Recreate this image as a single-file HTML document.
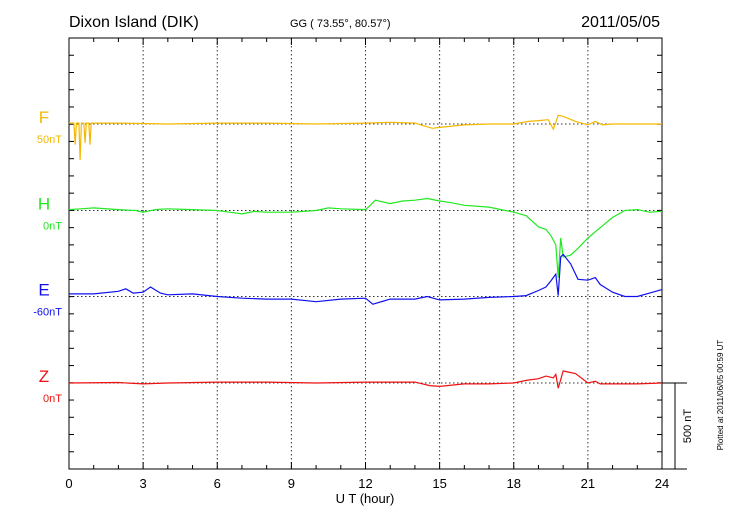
<!DOCTYPE html>
<html><head><meta charset="utf-8"><style>
body{margin:0;background:#fff;}
svg{display:block;font-family:"Liberation Sans",sans-serif;}
</style></head><body>
<svg id="c" width="730" height="520" xmlns="http://www.w3.org/2000/svg">
<text x="69" y="27" font-size="16">Dixon Island (DIK)</text>
<text x="290" y="27" font-size="11">GG ( 73.55°,  80.57°)</text>
<text x="660" y="27" font-size="16" text-anchor="end">2011/05/05</text>
<text x="365" y="503" font-size="13" text-anchor="middle">U T (hour)</text>
<text transform="translate(691,426) rotate(-90)" font-size="11" text-anchor="middle">500 nT</text>
<text transform="translate(723,395) rotate(-90)" font-size="8" text-anchor="middle">Plotted at 2011/06/05 00:59 UT</text>
</svg>
<script>
const hours=[0,3,6,9,12,15,18,21,24];
const fT=[0,0.2,0.25,0.3,0.4,0.45,0.5,0.6,0.65,0.7,0.8,0.85,0.9,2,4,6,8,10,12,13,14,14.7,15,16,17,18,18.6,19,19.4,19.6,19.7,19.8,20,20.5,21,21.3,21.6,22,23,24];
const fV=[5,5,-120,5,5,-210,5,5,-110,5,5,-120,5,5,0,5,5,0,5,10,5,-25,-20,-5,0,0,15,20,25,-30,10,50,45,15,-5,15,-5,0,0,0];
const hT=[0,0.5,1,2,2.7,3,3.5,4,5,6,6.5,7,7.5,8,9,10,10.5,11,12,12.2,12.4,13,13.5,14,14.5,15,15.5,16,17,18,18.5,19,19.3,19.5,19.7,19.8,19.9,20,20.3,20.6,21,21.5,22,22.5,23,23.5,24];
const hV=[5,10,15,5,0,-10,5,10,5,0,-10,-20,-5,-10,-10,0,15,10,5,30,60,40,55,60,70,55,45,30,20,-10,-30,-95,-110,-145,-200,-390,-160,-270,-260,-220,-160,-100,-40,0,5,-10,-5];
const eT=[0,1,2,2.3,2.6,3,3.3,3.7,4,5,6,7,8,9,10,11,12,12.3,13,14,14.5,15,16,17,18,18.5,19,19.3,19.5,19.7,19.8,19.9,20,20.3,20.6,21,21.3,21.5,22,22.5,23,23.5,24];
const eV=[15,15,30,45,20,25,55,20,10,15,0,-10,-15,-15,-30,-15,-10,-45,-15,-15,0,-20,-15,-5,0,5,35,55,90,130,5,230,245,190,100,95,110,70,25,0,0,20,40];
const zT=[0,2,3,4,6,8,10,12,14,14.6,15,16,17,18,18.5,19,19.3,19.6,19.7,19.8,20,20.5,21,21.3,21.5,22,23,24];
const zV=[0,3,-5,0,5,5,0,5,5,-15,-20,-5,-5,0,15,25,40,30,50,-30,70,55,0,10,-5,-5,-5,0];
const X0=69,X1=662,Y0=38,Y1=469,K=0.172;
const bases={F:124,H:210.5,E:296.5,Z:383};
const x=t=>X0+(X1-X0)*t/24;
const y=(b,v)=>b-v*K;
const svg=document.getElementById('c');
const NS='http://www.w3.org/2000/svg';
function mk(tag,attrs){const e=document.createElementNS(NS,tag);for(const k in attrs)e.setAttribute(k,attrs[k]);svg.appendChild(e);return e;}
hours.slice(1,-1).forEach(h=>{const g=mk('line',{x1:x(h),x2:x(h),y1:Y0,y2:Y1,stroke:'#333','stroke-dasharray':'1.5,2.5','stroke-width':1});

});
Object.keys(bases).forEach(k=>{const g=mk('line',{x1:X0,x2:X1,y1:bases[k],y2:bases[k],stroke:'#333','stroke-dasharray':'1.5,2.5','stroke-width':1});

});
const fr=mk('rect',{x:X0,y:Y0,width:X1-X0,height:Y1-Y0,fill:'none',stroke:'#000','stroke-width':1});


const bx=mk('line',{x1:X1,x2:687,y1:Y1,y2:Y1,stroke:'#000'});


for(let h=0;h<=24;h++){const L=h%3==0?7:4;
const t1=mk('line',{x1:x(h),x2:x(h),y1:Y1,y2:Y1-L,stroke:'#000'});


const t2=mk('line',{x1:x(h),x2:x(h),y1:Y0,y2:Y0+L,stroke:'#000'});

}
hours.forEach(h=>{const t=mk('text',{x:x(h),y:488,'font-size':13,'text-anchor':'middle'});t.textContent=h;

});
for(let yy=Y0+17.24;yy<Y1-1;yy+=17.24){
const a=mk('line',{x1:X0,x2:X0+5,y1:yy,y2:yy,stroke:'#000'});


const b=mk('line',{x1:X1,x2:X1-5,y1:yy,y2:yy,stroke:'#000'});

}
const sb=mk('path',{d:`M${X1} 383H687M675 383V469`,stroke:'#000',fill:'none'});


const series=[['F',fT,fV,'#f5b800','50nT'],['H',hT,hV,'#22e822','0nT'],['E',eT,eV,'#1010ee','-60nT'],['Z',zT,zV,'#ee1111','0nT']];
series.forEach(([k,T,V,c,lab])=>{
const p=mk('polyline',{points:T.map((t,i)=>x(t).toFixed(1)+','+y(bases[k],V[i]).toFixed(1)).join(' '),fill:'none',stroke:c,'stroke-width':1.2});


const t=mk('text',{x:44,y:bases[k]-1,'font-size':17,fill:c,'text-anchor':'middle'});t.textContent=k;


const u=mk('text',{x:62,y:bases[k]+19,'font-size':11,fill:c,'text-anchor':'end'});u.textContent=lab;


});
</script>
</body></html>
